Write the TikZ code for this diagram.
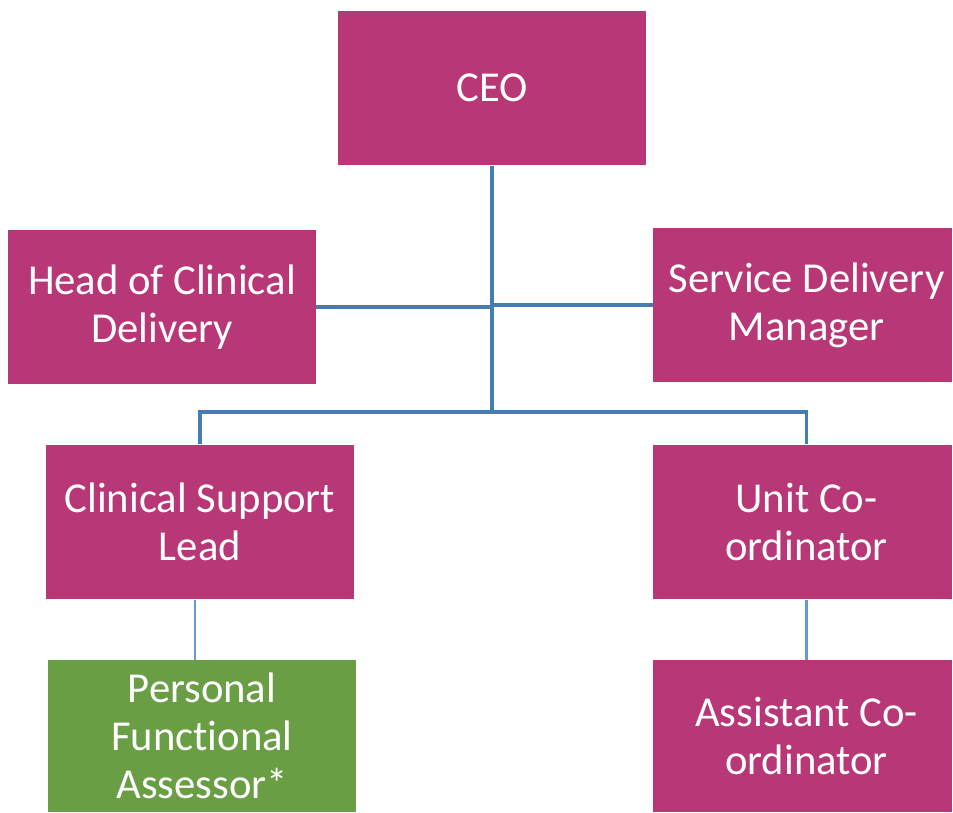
\documentclass[tikz,border=0pt]{standalone}
\usepackage{fontspec}
\setmainfont[Ligatures=NoCommon]{Carlito}
\usetikzlibrary{calc}
\definecolor{plum}{RGB}{184,55,118}
\definecolor{leaf}{RGB}{106,158,69}
\definecolor{linkblue}{RGB}{70,124,176}
\definecolor{lightlink}{RGB}{100,155,210}

\begin{document}
\begin{tikzpicture} [x=0.75pt, y=-0.75pt]
        \tikzset{
            role/.style={fill=plum, text=white, minimum width=231pt, minimum height=116pt, align=center, inner sep=0pt, font=\fontsize{32}{36}\selectfont},
            link/.style={draw=linkblue, line width=2.3pt},
            thinlink/.style={draw=lightlink, line width=1.4pt}
        }
        \useasboundingbox (0,0) rectangle (953,813);

        \node[role] (ceo) at (492,88) {CEO};
        \node[role] (hcd) at (162,307) {Head of Clinical\\Delivery};
        \node[role, minimum width=224pt] (sdm) at (802.5,305) {\hspace*{6pt}Service Delivery\\\hspace*{6pt}Manager};
        \node[role] (csl) at (200,522) {Clinical Support\\Lead};
        \node[role, minimum width=224pt] (uc) at (802.5,522) {\hspace*{6pt}Unit Co-\\\hspace*{6pt}ordinator};
        \node[role, fill=leaf, minimum height=114pt] (pfa) at (202,736) {Personal\\Functional\\Assessor*};
        \node[role, minimum width=224pt, minimum height=114pt] (ac) at (802.5,736) {\hspace*{6pt}Assistant Co-\\\hspace*{6pt}ordinator};

        \coordinate (hub) at (492,412);
        \coordinate (ucdrop) at ($(uc.north)+(4,0)$);

        \draw[link] (ceo.south) -- (hub);
        \draw[link] (hcd.east) -- (hcd.east -| ceo.south);
        \draw[link] (sdm.west -| ceo.south) -- (sdm.west);
        \draw[link] (csl.north) -- (csl.north |- hub) -- (ucdrop |- hub) -- (ucdrop);

        \draw[thinlink] ($(csl.south)+(-5,0)$) -- ($(pfa.north)+(-7,0)$);
        \draw[thinlink, line width=2.3pt] ($(uc.south)+(4,0)$) -- ($(ac.north)+(4,0)$);
    \end{tikzpicture}
\end{document}
